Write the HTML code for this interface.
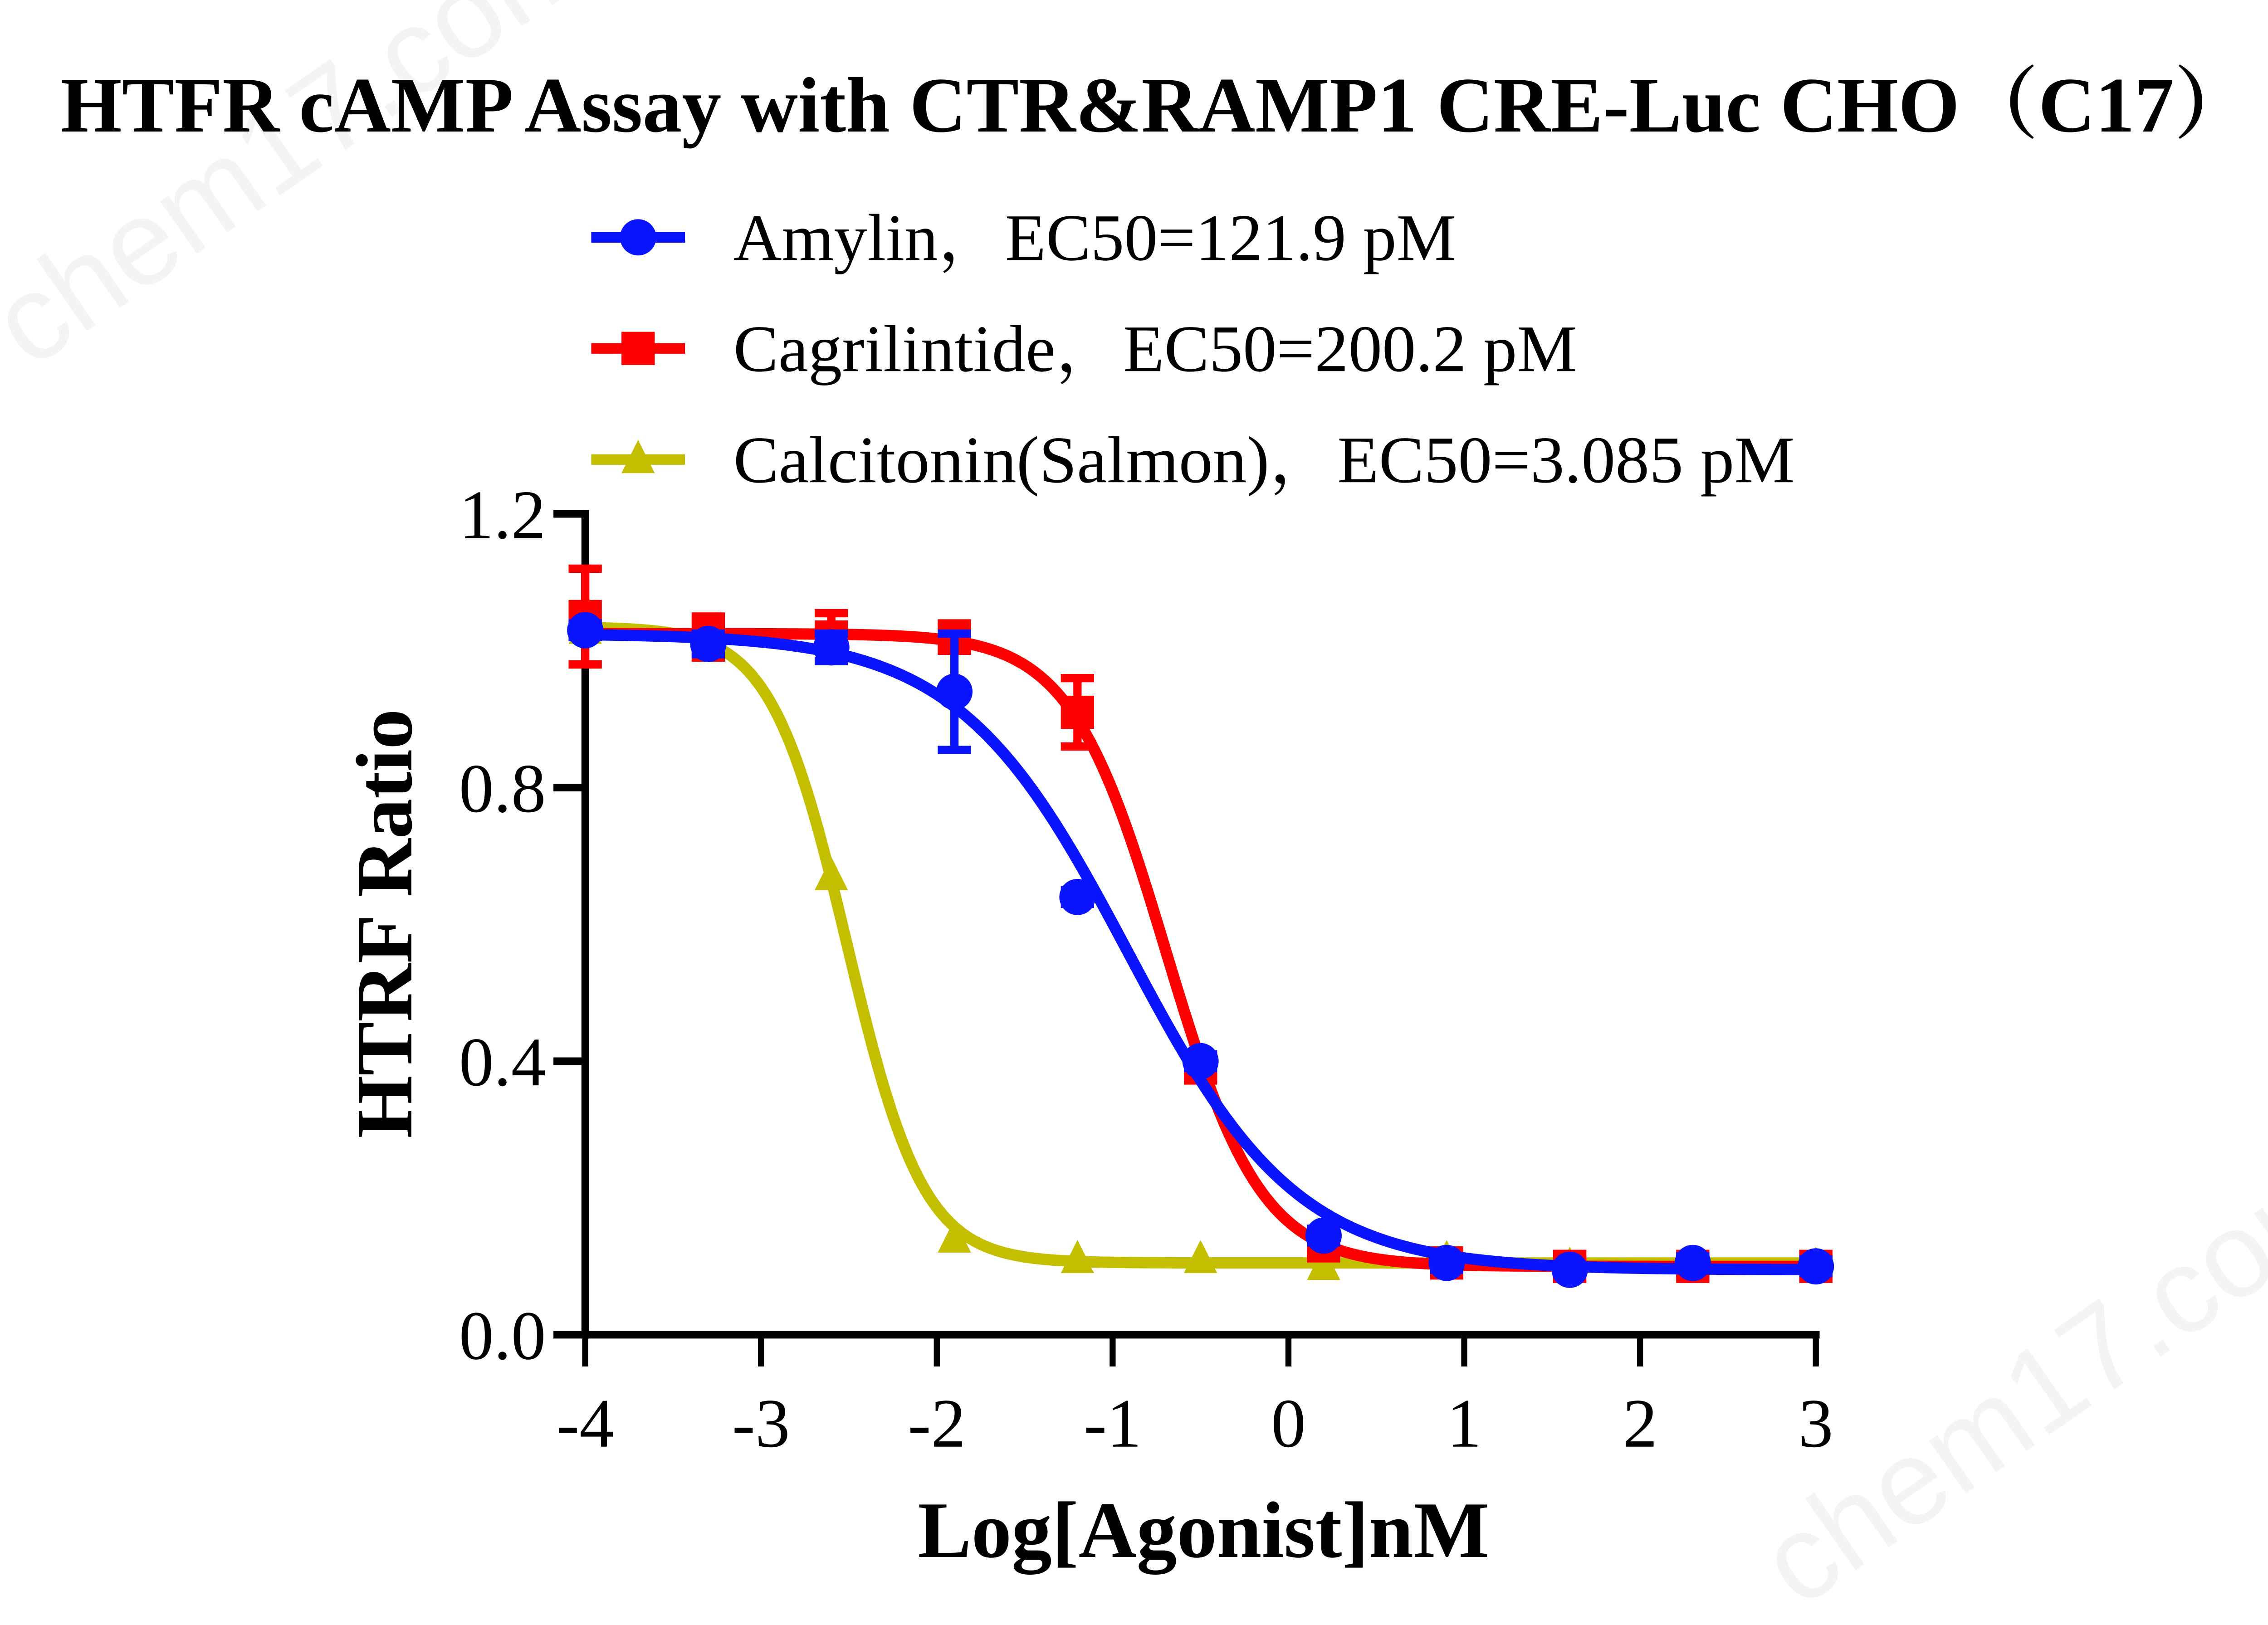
<!DOCTYPE html>
<html><head><meta charset="utf-8"><style>
html,body{margin:0;padding:0;background:#fff;}
svg{display:block;font-family:"Liberation Serif",serif;}
</style></head><body>
<svg id="chart" width="5200" height="3583" viewBox="0 0 1560 1075" xmlns="http://www.w3.org/2000/svg">
<g fill="#f4f4f4" font-family="Liberation Sans, sans-serif" font-size="80">
<text x="20" y="245" transform="rotate(-35 20 245)">chem17.com</text>
<text x="1190" y="1065" transform="rotate(-35 1190 1065)">chem17.com</text>
</g>
<text x="40" y="87" textLength="1450" lengthAdjust="spacingAndGlyphs" font-weight="bold" font-size="52" font-family="Liberation Serif, Noto Serif CJK SC, serif">HTFR cAMP Assay with CTR&amp;RAMP1 CRE-Luc CHO（C17）</text>
<g id="legend"></g>
<g id="axes"></g>
<g id="plot"></g>
<text transform="translate(272,611) rotate(-90)" text-anchor="middle" font-weight="bold" font-size="53" textLength="284" lengthAdjust="spacingAndGlyphs">HTRF Ratio</text>
<text x="796" y="1030" text-anchor="middle" font-weight="bold" font-size="53" textLength="378" lengthAdjust="spacingAndGlyphs">Log[Agonist]nM</text>
</svg>
<script>
const logDose = [-4, -3.3, -2.6, -1.9, -1.2, -0.5, 0.2, 0.9, 1.6, 2.3, 3.0];
const amylinValues = [1.03, 1.01, 1.005, 0.94, 0.64, 0.40, 0.145, 0.105, 0.095, 0.105, 0.10];
const amylinErrors = [0.01, 0.015, 0.02, 0.085, 0.01, 0.01, 0.01, 0.01, 0.005, 0.01, 0.01];
const cagriValues = [1.05, 1.02, 1.02, 1.02, 0.91, 0.39, 0.13, 0.105, 0.10, 0.10, 0.10];
const cagriErrors = [0.07, 0.03, 0.035, 0.02, 0.05, 0.015, 0.01, 0.01, 0.01, 0.01, 0.01];
const calciValues = [1.03, 1.02, 0.67, 0.14, 0.11, 0.11, 0.10, 0.11, 0.10, 0.10, 0.10];
const amylinFit = [1.025, 0.095, -0.914, -0.9];
const cagriFit = [1.025, 0.10, -0.699, -1.6];
const calciFit = [1.035, 0.105, -2.51, -2.0];
const xTicks = [-4, -3, -2, -1, 0, 1, 2, 3];
const yTicks = [0.0, 0.4, 0.8, 1.2];
const legendLabels = ["Amylin，EC50=121.9 pM", "Cagrilintide，EC50=200.2 pM", "Calcitonin(Salmon)，EC50=3.085 pM"];
const legendWidths = [478, 558, 702];

const NS = "http://www.w3.org/2000/svg";
const X0 = 387, X1 = 1201, Y0 = 883, Y1 = 340;
const xs = v => X0 + (v + 4) / 7 * (X1 - X0);
const ys = v => Y0 - v / 1.2 * (Y0 - Y1);
function mk(tag, attrs, parent) {
  const e = document.createElementNS(NS, tag);
  for (const k in attrs) e.setAttribute(k, attrs[k]);
  parent.appendChild(e);
  return e;
}
const axes = document.getElementById('axes');
const plot = document.getElementById('plot');
const legend = document.getElementById('legend');

const yAxis = mk('line', {x1: X0, y1: Y1 - 2.5, x2: X0, y2: Y0 + 2.5, stroke: '#000', 'stroke-width': 5}, axes);


const xAxis = mk('line', {x1: X0 - 2.5, y1: Y0, x2: X1 + 2.5, y2: Y0, stroke: '#000', 'stroke-width': 5}, axes);


yTicks.forEach(t => {
  const y = ys(t);
  const l = mk('line', {x1: X0 - 21, y1: y, x2: X0, y2: y, stroke: '#000', 'stroke-width': 5}, axes);
  
  
  const tx = mk('text', {x: X0 - 26, y: y + 16, 'text-anchor': 'end', 'font-size': 46}, axes);
  tx.textContent = t.toFixed(1);
  
  
});
xTicks.forEach(t => {
  const x = xs(t);
  const l = mk('line', {x1: x, y1: Y0, x2: x, y2: Y0 + 21, stroke: '#000', 'stroke-width': 4}, axes);
  
  
  const tx = mk('text', {x: x, y: 957, 'text-anchor': 'middle', 'font-size': 46}, axes);
  tx.textContent = String(t);
  
  
});

function fit(p, x) { return p[1] + (p[0] - p[1]) / (1 + Math.pow(10, (p[2] - x) * p[3])); }
function marker(kind, x, y, color, parent) {
  let m;
  if (kind === 'circle') m = mk('circle', {cx: x, cy: y, r: 12, fill: color}, parent);
  else if (kind === 'square') m = mk('rect', {x: x - 11, y: y - 11, width: 22, height: 22, fill: color}, parent);
  else m = mk('polygon', {points: `${x},${y - 13} ${x - 11},${y + 9} ${x + 11},${y + 9}`, fill: color}, parent);
  return m;
}
function series(name, vals, errs, p, color, kind) {
  const g = mk('g', {}, plot);
  
  
  let d = '';
  for (let i = 0; i <= 300; i++) {
    const x = -4 + 7 * i / 300;
    d += (i ? 'L' : 'M') + xs(x).toFixed(2) + ',' + ys(fit(p, x)).toFixed(2);
  }
  const c = mk('path', {d: d, fill: 'none', stroke: color, 'stroke-width': 7.5}, g);
  
  
  vals.forEach((v, i) => {
    const x = xs(logDose[i]);
    if (errs) {
      const e = errs[i];
      const eg = mk('path', {d: `M${x},${ys(v + e)}L${x},${ys(v - e)}M${x - 11},${ys(v + e)}L${x + 11},${ys(v + e)}M${x - 11},${ys(v - e)}L${x + 11},${ys(v - e)}`, stroke: color, 'stroke-width': 5.5, fill: 'none'}, g);
      
      
    }
    const m = marker(kind, x, ys(v), color, g);
    
    
  });
}
series('calcitonin', calciValues, null, calciFit, '#c3bf00', 'triangle');
series('cagrilintide', cagriValues, cagriErrors, cagriFit, '#ff0000', 'square');
series('amylin', amylinValues, amylinErrors, amylinFit, '#0a14ff', 'circle');

const legColors = ['#0a14ff', '#ff0000', '#c3bf00'];
const legKinds = ['circle', 'square', 'triangle'];
legendLabels.forEach((lab, i) => {
  const y = 157 + i * 73.5;
  const g = mk('g', {}, legend);
  
  
  mk('line', {x1: 391, y1: y, x2: 453, y2: y, stroke: legColors[i], 'stroke-width': 7}, g);
  marker(legKinds[i], 422, y, legColors[i], g);
  const t = mk('text', {x: 485, y: y + 15, 'font-size': 44, textLength: legendWidths[i], lengthAdjust: 'spacingAndGlyphs', 'font-family': 'Liberation Serif, Noto Serif CJK SC, serif'}, g);
  t.textContent = lab;
});
</script>
</body></html>
